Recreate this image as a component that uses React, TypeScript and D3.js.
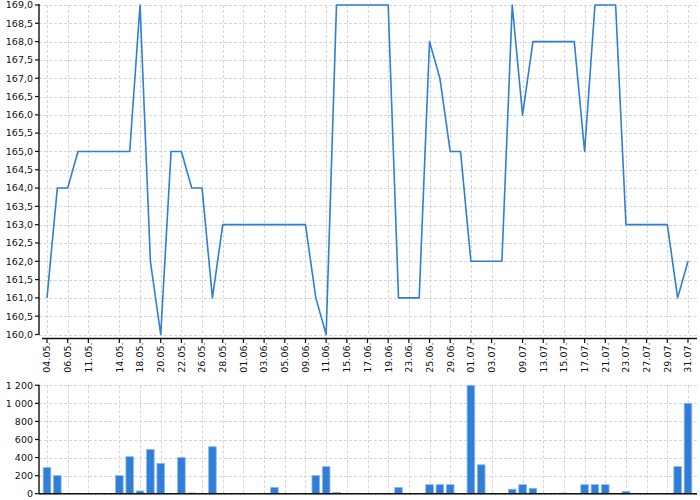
import React, { useEffect } from 'react';
import * as d3 from 'd3';

const categories = [
  '04.05.', '05.05.', '06.05.', '10.05.', '11.05.', '12.05.', '13.05.', '14.05.', '17.05.', '18.05.',
  '19.05.', '20.05.', '21.05.', '22.05.', '25.05.', '26.05.', '27.05.', '28.05.', '31.05.', '01.06.',
  '02.06.', '03.06.', '04.06.', '05.06.', '08.06.', '09.06.', '10.06.', '11.06.', '14.06.', '15.06.',
  '16.06.', '17.06.', '18.06.', '19.06.', '22.06.', '23.06.', '24.06.', '25.06.', '26.06.', '29.06.',
  '30.06.', '01.07.', '02.07.', '03.07.', '07.07.', '08.07.', '09.07.', '10.07.', '13.07.', '14.07.',
  '15.07.', '16.07.', '17.07.', '20.07.', '21.07.', '22.07.', '23.07.', '24.07.', '27.07.', '28.07.',
  '29.07.', '30.07.', '31.07.'
];

const shownLabels = [
  '04.05.', '06.05.', '11.05.', '14.05.', '18.05.', '20.05.', '22.05.', '26.05.', '28.05.', '01.06.',
  '03.06.', '05.06.', '09.06.', '11.06.', '15.06.', '17.06.', '19.06.', '23.06.', '25.06.', '29.06.',
  '01.07.', '03.07.', '09.07.', '13.07.', '15.07.', '17.07.', '21.07.', '23.07.', '27.07.', '29.07.',
  '31.07.'
];

const priceValues = [
  161, 164, 164, 165, 165, 165, 165, 165, 165, 169,
  162, 160, 165, 165, 164, 164, 161, 163, 163, 163,
  163, 163, 163, 163, 163, 163, 161, 160, 169, 169,
  169, 169, 169, 169, 161, 161, 161, 168, 167, 165,
  165, 162, 162, 162, 162, 169, 166, 168, 168, 168,
  168, 168, 165, 169, 169, 169, 163, 163, 163, 163,
  163, 161, 162
];

const volumeValues = [
  290, 200, 0, 0, 0, 0, 0, 200, 410, 30,
  490, 335, 0, 400, 8, 0, 520, 0, 0, 0,
  0, 0, 70, 0, 0, 0, 200, 300, 15, 0,
  0, 0, 0, 0, 70, 0, 0, 100, 100, 100,
  0, 1200, 320, 0, 0, 50, 100, 60, 0, 0,
  5, 0, 100, 100, 100, 0, 25, 0, 0, 0,
  0, 300, 1000
];

const priceTicks = [160, 160.5, 161, 161.5, 162, 162.5, 163, 163.5, 164, 164.5, 165, 165.5, 166, 166.5, 167, 167.5, 168, 168.5, 169];
const volumeTicks = [0, 200, 400, 600, 800, 1000, 1200];

const W = 700;
const H = 500;
const LEFT = 39;
const RIGHT = 697;
const TOP1 = 5;
const BOTTOM1 = 334.5;
const XAXIS_Y = 338.5;
const TOP2 = 385.3;
const BOTTOM2 = 493.7;
const BLUE = '#2f7ed8';
const GRID = '#d6d6d6';
const FONT = 'DejaVu Sans';

const loc = d3.formatLocale({ decimal: ',', thousands: '\u00a0', grouping: [3], currency: ['', ''] });
const fmtPrice = loc.format('.1f');
const fmtVol = loc.format(',d');

export default function App() {
  useEffect(() => {
    document.body.style.margin = '0';
  }, []);

  const x = d3.scalePoint<string>().domain(categories).range([47, 688]);
  const y1 = d3.scaleLinear().domain([160, 169]).range([BOTTOM1, TOP1]);
  const y2 = d3.scaleLinear().domain([0, 1200]).range([BOTTOM2, TOP2]);

  const line = d3
    .line<number>()
    .x((_, i) => x(categories[i]) as number)
    .y((d) => y1(d));

  const barW = 7.6;
  const px = (v: number) => Math.round(v) + 0.5;

  return (
    <svg width={W} height={H} style={{ position: 'absolute', left: 0, top: 0 }} fontFamily={FONT}>
      <rect x={0} y={0} width={W} height={H} fill="#fff" />
      {/* top grid */}
      <g stroke={GRID} strokeDasharray="3,2" strokeWidth={1}>
        {priceTicks.map((t) => (
          <line key={'hg' + t} x1={LEFT} x2={RIGHT} y1={px(y1(t))} y2={px(y1(t))} />
        ))}
        {shownLabels.map((c) => (
          <line key={'vg' + c} x1={px(x(c) as number)} x2={px(x(c) as number)} y1={TOP1} y2={BOTTOM1} />
        ))}
        {volumeTicks.map((t) => (
          <line key={'hg2' + t} x1={LEFT} x2={RIGHT} y1={px(y2(t))} y2={px(y2(t))} />
        ))}
        {shownLabels.map((c) => (
          <line key={'vg2' + c} x1={px(x(c) as number)} x2={px(x(c) as number)} y1={TOP2} y2={BOTTOM2} />
        ))}
      </g>

      {/* price line */}
      <path d={line(priceValues) || ''} fill="none" stroke={BLUE} strokeWidth={1.6} strokeLinejoin="round" />

      {/* volume bars */}
      <g>
        {volumeValues.map((v, i) =>
          v > 0 ? (
            <rect
              key={'b' + i}
              x={(x(categories[i]) as number) - barW / 2}
              y={y2(v)}
              width={barW}
              height={BOTTOM2 - y2(v)}
              fill={BLUE}
              stroke="#8cb8ec"
              strokeWidth={0.8}
            />
          ) : null
        )}
      </g>

      {/* top y axis */}
      <line x1={LEFT} x2={LEFT} y1={TOP1 - 1} y2={BOTTOM1 + 0.5} stroke="#111" strokeWidth={1.4} />
      {priceTicks.map((t) => (
        <g key={'yt' + t}>
          <line x1={LEFT - 4} x2={LEFT} y1={y1(t)} y2={y1(t)} stroke="#111" strokeWidth={1.2} />
          <text x={LEFT - 6} y={y1(t)} dy="0.35em" textAnchor="end" fontSize={9.5} fill="#111">
            {fmtPrice(t)}
          </text>
        </g>
      ))}

      {/* top x axis */}
      <line x1={42} x2={RIGHT} y1={XAXIS_Y} y2={XAXIS_Y} stroke="#111" strokeWidth={1.4} />
      {shownLabels.map((c) => {
        const cx = x(c) as number;
        return (
          <g key={'xt' + c}>
            <line x1={cx} x2={cx} y1={XAXIS_Y} y2={XAXIS_Y + 4.5} stroke="#111" strokeWidth={1.2} />
            <text
              transform={`translate(${cx},${XAXIS_Y + 4}) rotate(-90)`}
              dy="0.35em"
              textAnchor="end"
              fontSize={9.5}
              fill="#111"
            >
              {c}
            </text>
          </g>
        );
      })}

      {/* bottom y axis */}
      <line x1={LEFT} x2={LEFT} y1={TOP2 - 0.5} y2={BOTTOM2} stroke="#111" strokeWidth={1.4} />
      {volumeTicks.map((t) => (
        <g key={'vt' + t}>
          <line x1={LEFT - 4} x2={LEFT} y1={y2(t)} y2={y2(t)} stroke="#111" strokeWidth={1.2} />
          <text x={LEFT - 6} y={y2(t)} dy="0.35em" textAnchor="end" fontSize={9.5} fill="#111">
            {fmtVol(t)}
          </text>
        </g>
      ))}
      {/* bottom x axis */}
      <line x1={LEFT} x2={RIGHT} y1={BOTTOM2} y2={BOTTOM2} stroke="#111" strokeWidth={1.4} />
    </svg>
  );
}
